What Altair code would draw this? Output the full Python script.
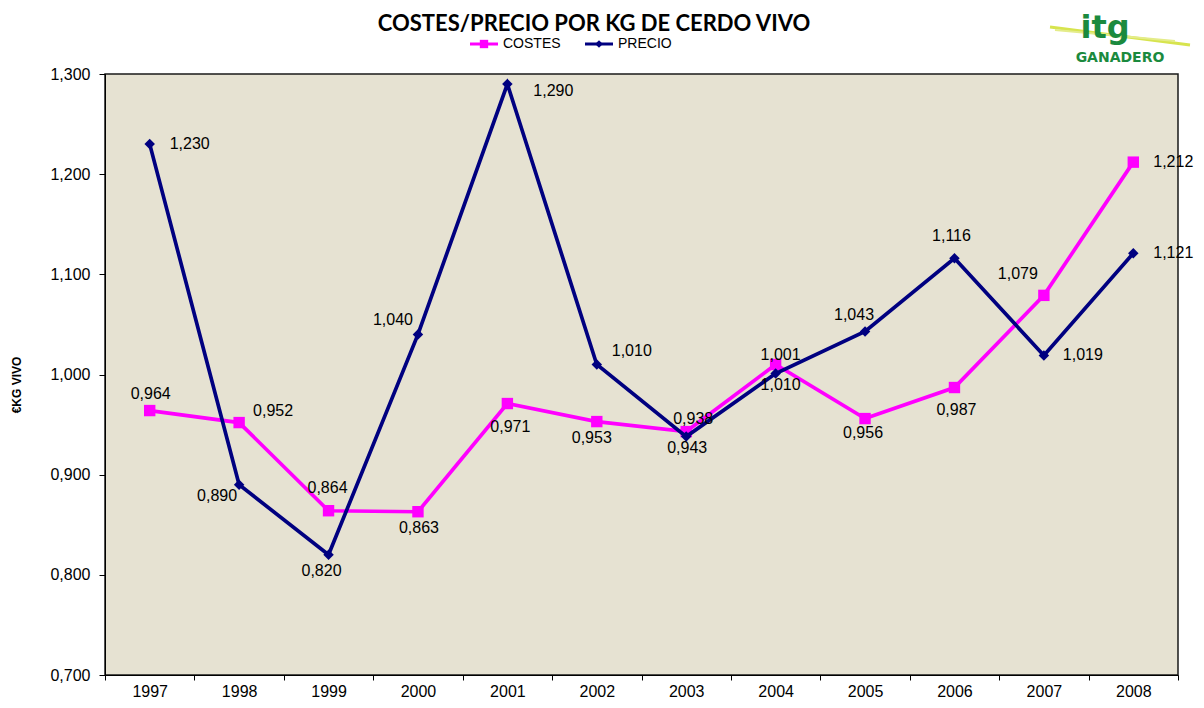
import altair as alt
import pandas as pd

years = ["1997", "1998", "1999", "2000", "2001", "2002", "2003", "2004", "2005", "2006", "2007", "2008"]
costes = [0.964, 0.952, 0.864, 0.863, 0.971, 0.953, 0.943, 1.010, 0.956, 0.987, 1.079, 1.212]
precio = [1.230, 0.890, 0.820, 1.040, 1.290, 1.010, 0.938, 1.001, 1.043, 1.116, 1.019, 1.121]
y_ticks = [0.7, 0.8, 0.9, 1.0, 1.1, 1.2, 1.3]

title_text = "COSTES/PRECIO POR KG DE CERDO VIVO"
y_title = "€KG VIVO"

rows = []
for i, yr in enumerate(years):
    rows.append({"year": yr, "serie": "COSTES", "value": costes[i]})
    rows.append({"year": yr, "serie": "PRECIO", "value": precio[i]})
df = pd.DataFrame(rows)
df["label"] = df["value"].map(lambda v: f"{v:.3f}".replace(".", ","))

# label offsets (dx, dy) in pixels from the marker, per series and year
label_offsets = {
    "COSTES": [(1, -17), (34, -12), (-1, -23), (1, 16), (3, 23), (-5, 16),
               (1, 16), (5, 21), (-2, 14), (2, 22), (-26, -21), (40, 0)],
    "PRECIO": [(40, 0), (-22, 11), (-7, 16), (-25, -14), (46, 7), (35, -13),
               (7, -18), (5, -18), (-11, -16), (-3, -22), (39, 0), (40, 0)],
}

W, H = 1073, 601
PINK = "#FF00FF"
NAVY = "#000080"
FONT = "Liberation Sans"

xenc = alt.X(
    "year:N",
    sort=years,
    scale=alt.Scale(type="band", domain=years, paddingInner=0, paddingOuter=0),
    axis=alt.Axis(
        title=None, labelAngle=0, tickBand="extent", tickSize=5, tickColor="black",
        domainColor="black", labelFont=FONT, labelFontSize=16, labelColor="black",
        labelPadding=3, grid=False,
    ),
)
yenc = alt.Y(
    "value:Q",
    scale=alt.Scale(domain=[0.7, 1.3], nice=False, zero=False),
    axis=alt.Axis(
        title=None, values=y_ticks, tickSize=6, tickColor="black", domainColor="black",
        labelFont=FONT, labelFontSize=16, labelColor="black", labelPadding=9, grid=False,
        labelExpr="replace(format(datum.value, '.3f'), '.', ',')",
    ),
)

base = alt.Chart(df).encode(x=xenc, y=yenc)

layers = []
for serie, color, shape, size in [("COSTES", PINK, "square", 130), ("PRECIO", NAVY, "diamond", 110)]:
    sub = base.transform_filter(alt.datum.serie == serie)
    layers.append(sub.mark_line(color=color, strokeWidth=3.7))
    layers.append(sub.mark_point(filled=True, shape=shape, size=size, color=color, opacity=1))

for serie in ["COSTES", "PRECIO"]:
    for i, yr in enumerate(years):
        dx, dy = label_offsets[serie][i]
        layers.append(
            base.transform_filter((alt.datum.serie == serie) & (alt.datum.year == yr))
            .mark_text(dx=dx, dy=dy, align="center", baseline="middle", font=FONT,
                       fontSize=16, color="black")
            .encode(text="label:N")
        )

one = pd.DataFrame({"k": [0]})
deco = alt.Chart(one)

# title
layers.append(deco.mark_text(text=title_text, font="Lato", fontSize=22, fontWeight="bold",
                             align="center", baseline="middle", color="black")
              .encode(x=alt.value(489), y=alt.value(-50)))
# y-axis title
layers.append(deco.mark_text(text=y_title, font=FONT, fontSize=12, fontWeight="bold", angle=270,
                             align="center", baseline="middle", color="black")
              .encode(x=alt.value(-88), y=alt.value(311)))
# legend
layers.append(deco.mark_rule(color=PINK, strokeWidth=3).encode(x=alt.value(365), x2=alt.value(393), y=alt.value(-30)))
layers.append(deco.mark_point(filled=True, shape="square", size=70, color=PINK, opacity=1).encode(x=alt.value(379), y=alt.value(-30)))
layers.append(deco.mark_text(text="COSTES", font=FONT, fontSize=14, align="left", baseline="middle", color="black")
              .encode(x=alt.value(398), y=alt.value(-30)))
layers.append(deco.mark_rule(color=NAVY, strokeWidth=3).encode(x=alt.value(480), x2=alt.value(508), y=alt.value(-30)))
layers.append(deco.mark_point(filled=True, shape="diamond", size=60, color=NAVY, opacity=1).encode(x=alt.value(494), y=alt.value(-30)))
layers.append(deco.mark_text(text="PRECIO", font=FONT, fontSize=14, align="left", baseline="middle", color="black")
              .encode(x=alt.value(513), y=alt.value(-30)))
# logo
layers.append(deco.mark_rule(color="#D7E44E", strokeWidth=3).encode(x=alt.value(945), x2=alt.value(1085), y=alt.value(-47), y2=alt.value(-29)))
layers.append(deco.mark_rule(color="#E4EC8A", strokeWidth=2).encode(x=alt.value(950), x2=alt.value(1070), y=alt.value(-44), y2=alt.value(-33)))
layers.append(deco.mark_text(text="itg", font="DejaVu Sans", fontSize=32, fontWeight="bold",
                             align="center", baseline="middle", color="#1B8A3E")
              .encode(x=alt.value(1000), y=alt.value(-46)))
layers.append(deco.mark_text(text="GANADERO", font="DejaVu Sans", fontSize=14, fontWeight="bold",
                             align="center", baseline="middle", color="#1B8A3E")
              .encode(x=alt.value(1015), y=alt.value(-16)))

chart = alt.layer(*layers).properties(
    width=W, height=H,
    autosize=alt.AutoSizeParams(type="none"),
    padding={"left": 97, "top": 66, "right": 18, "bottom": 25},
    background="white",
).configure_view(fill="#E6E2D2", stroke="#1a1a1a", strokeWidth=1.5)

chart.save("out.html", embed_options={"renderer": "svg", "actions": False})
